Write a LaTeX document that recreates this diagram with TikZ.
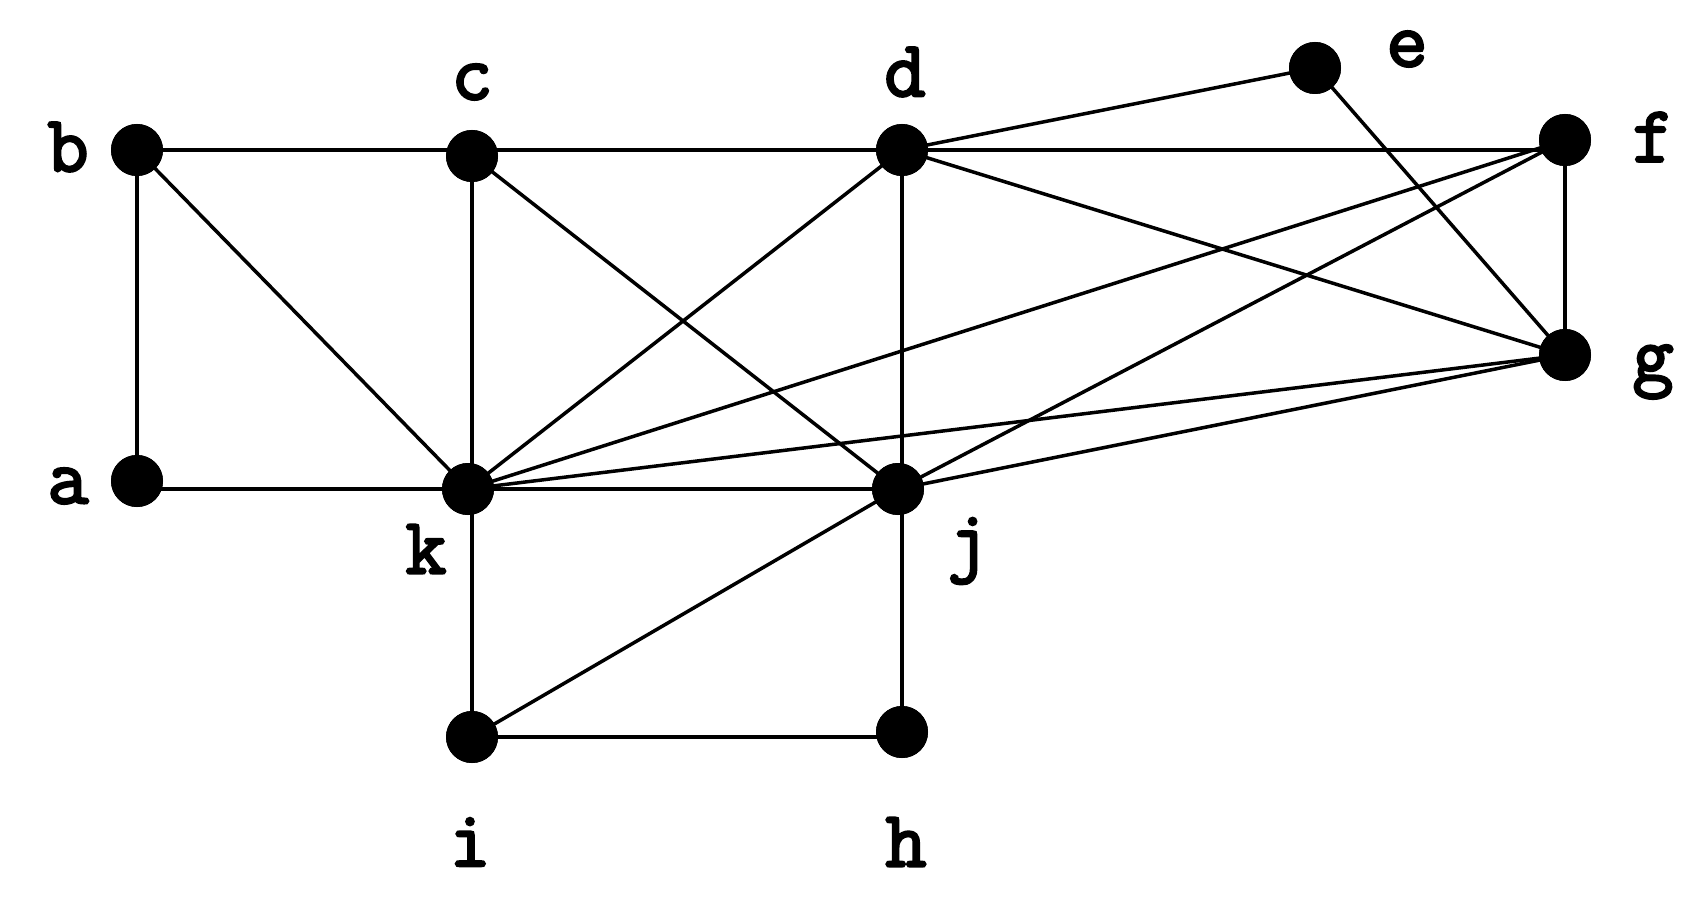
\documentclass[tikz,border=0pt]{standalone}
\usepackage{fontspec}
\newfontfamily\lblfont{Latin Modern Mono}[FakeBold=3]
\begin{document}
\begin{tikzpicture}[x=1pt,y=-1pt,
  vtx/.style={circle,fill=black,inner sep=0pt,minimum size=52pt},
  lbl/.style={font=\fontsize{80}{80}\selectfont\lblfont,inner sep=0pt},
  edge/.style={line width=3.5pt}]
\useasboundingbox (0,0) rectangle (1705,901);
\node[vtx] (a) at (137,481) {};
\node[vtx] (b) at (137,150) {};
\node[vtx] (c) at (472,156) {};
\node[vtx] (d) at (902,150) {};
\node[vtx] (e) at (1315,68) {};
\node[vtx] (f) at (1565,140) {};
\node[vtx] (g) at (1565,355) {};
\node[vtx] (k) at (468,489) {};
\node[vtx] (j) at (898,489) {};
\node[vtx] (i) at (472,737) {};
\node[vtx] (h) at (902,732) {};
\node[lbl] (la) at (68,486) {a};
\node[lbl] (lb) at (68,147) {b};
\node[lbl] (lc) at (472,82) {c};
\node[lbl] (ld) at (905,72) {d};
\node[lbl] (le) at (1407,49) {e};
\node[lbl] (lf) at (1653,137) {f};
\node[lbl] (lg) at (1653,372) {g};
\node[lbl] (lk) at (426,549) {k};
\node[lbl] (lj) at (968,551) {j};
\node[lbl] (li) at (470,842) {i};
\node[lbl] (lh) at (906,842) {h};
% straight horizontal / vertical connectors
\draw[edge] (b.center) -- (b.center -| c);
\draw[edge] (d.center) -- (d.center -| c);
\draw[edge] (d.center) -- (d.center -| f);
\draw[edge] (k.center) -- (k.center -| a);
\draw[edge] (k.center) -- (k.center -| j);
\draw[edge] (i.center) -- (i.center -| h);
\draw[edge] (b.center) -- (b.center |- a);
\draw[edge] (c.center) -- (c.center |- k);
\draw[edge] (i.center) -- (i.center |- k);
\draw[edge] (d.center) -- (d.center |- j);
\draw[edge] (d.center) -- (d.center |- h);
\draw[edge] (f.center) -- (f.center |- g);
% oblique connectors
\foreach \u/\v in {b/k,c/j,d/e,d/g,d/k,e/g,f/k,f/j,g/k,g/j,j/i}
  \draw[edge] (\u.center) -- (\v.center);
\foreach \n in {a,b,c,d,e,f,g,k,j,i,h}
  \fill (\n) circle (26pt);
\end{tikzpicture}
\end{document}
